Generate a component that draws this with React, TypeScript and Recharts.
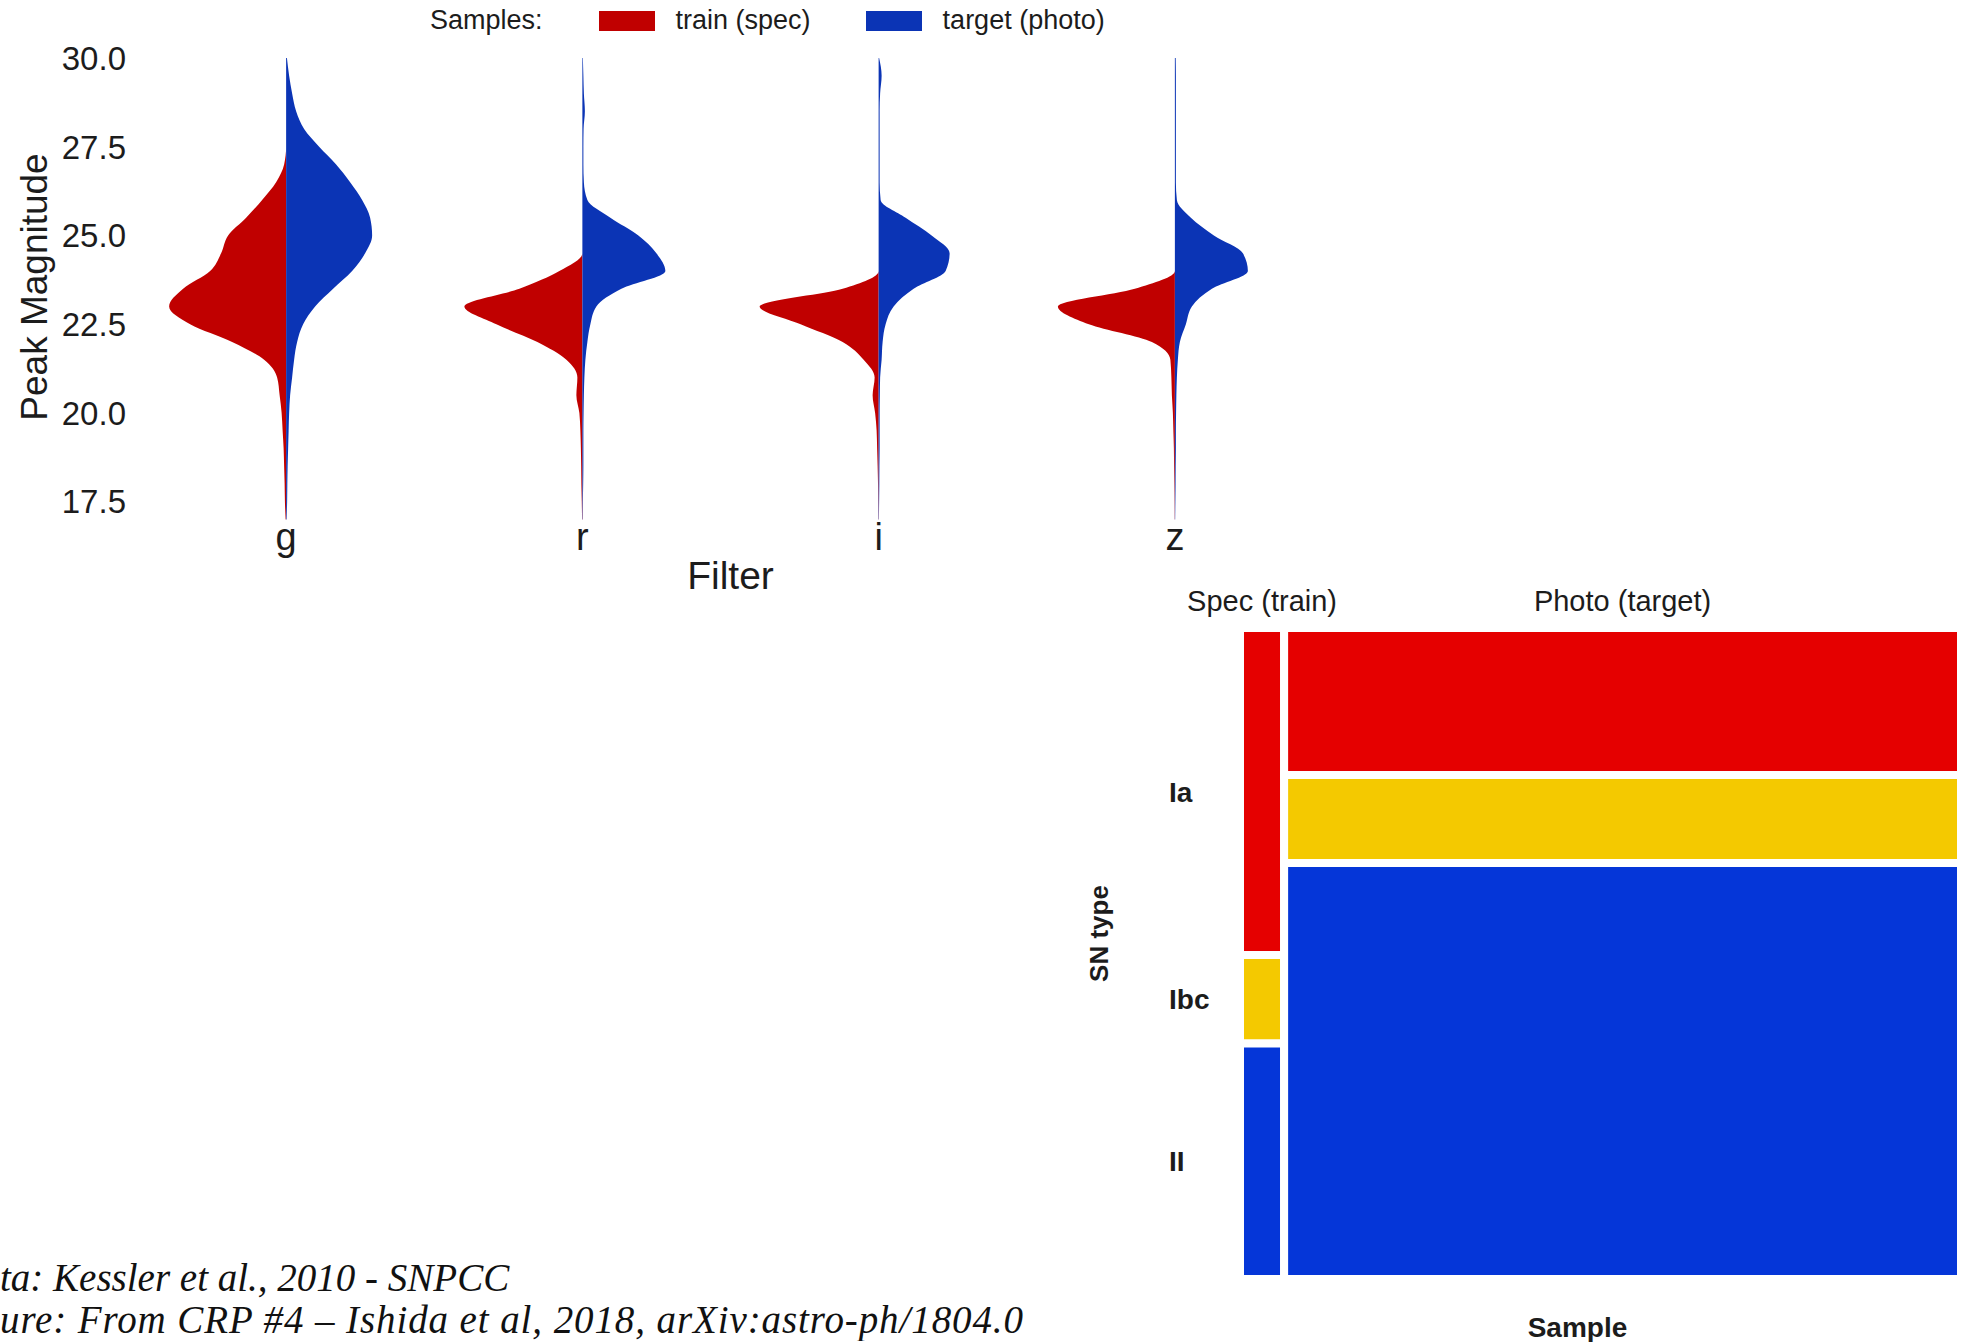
import React from 'react';
import { ComposedChart, Area, XAxis, YAxis, Legend, ReferenceArea, Label } from 'recharts';

const FONT = '"Liberation Sans", Arial, Helvetica, sans-serif';
const TEXT = '#1c1c1c';

// ---- violin plot: peak magnitude per filter ----
const FILTERS = ['g', 'r', 'i', 'z'];
const Y_TICKS = [17.5, 20, 22.5, 25, 27.5, 30];

// magnitude grid, bottom to top
const MAG = [
  17.0, 17.5, 18.0, 18.5, 19.0, 19.5, 20.0, 20.5, 21.0, 21.5, 22.0, 22.5, 23.0, 23.5,
  24.0, 24.5, 25.0, 25.5, 26.0, 26.5, 27.0, 27.5, 28.0, 28.5, 29.0, 29.5, 30.0,
];

// relative density (half-violin width), one value per MAG step
const G_TRAIN = [0.5, 1.2, 1.5, 2, 2.5, 3.5, 4.5, 6.5, 9, 22, 54, 96, 117, 103, 76, 65, 58, 40, 24, 10, 2, 0, 0, 0, 0, 0, 0];
const G_TARGET = [0.5, 1, 1.2, 1.5, 2, 2.5, 3, 4, 6, 8, 11, 17, 29, 47, 66, 79, 86, 84, 76, 64, 50, 33, 18, 10, 6, 3, 0.8];
const R_TRAIN = [0.3, 0.6, 1, 1.2, 1.5, 2, 3, 6, 5, 16, 45, 86, 118, 63, 23, 0, 0, 0, 0, 0, 0, 0, 0, 0, 0, 0, 0];
const R_TARGET = [0.3, 0.5, 0.8, 1, 1, 1, 1.2, 1.5, 2, 3, 5, 8, 14, 39, 83, 74, 56, 28, 5, 1.5, 1, 1, 1.2, 2.5, 1.5, 1, 0.5];
const I_TRAIN = [0.2, 0.4, 0.6, 1, 1.5, 2, 3.5, 6, 4, 15, 36, 78, 119, 36, 0, 0, 0, 0, 0, 0, 0, 0, 0, 0, 0, 0, 0];
const I_TARGET = [0.3, 0.5, 0.7, 0.8, 1, 1, 1, 1.2, 1.5, 3, 4, 7, 15, 35, 67, 71, 53, 27, 2, 1, 1, 1, 1, 1, 1.5, 3, 0.5];
const Z_TRAIN = [0.2, 0.3, 0.5, 0.8, 1, 1.5, 2, 3, 3.5, 4.5, 23, 86, 117, 40, 0, 0, 0, 0, 0, 0, 0, 0, 0, 0, 0, 0, 0];
const Z_TARGET = [0.3, 0.5, 0.7, 0.8, 1, 1, 1.2, 1.5, 2, 3, 5, 11, 17, 37, 73, 68, 39, 16, 2, 1, 1, 1, 1, 1, 1, 1, 0.8];

const DENSITIES = [
  [G_TRAIN, G_TARGET],
  [R_TRAIN, R_TARGET],
  [I_TRAIN, I_TARGET],
  [Z_TRAIN, Z_TARGET],
];

// train goes to the left of the filter centre, target to the right
const SAMPLES = [
  { name: 'train (spec)', color: '#C00000', side: -1 },
  { name: 'target (photo)', color: '#0B34B5', side: 1 },
];
const DENSITY_TO_WIDTH = 0.4 / 118.5;

const ROWS = MAG.map((mag, i) => {
  const row: Record<string, any> = { mag };
  FILTERS.forEach((f, fi) => {
    SAMPLES.forEach((s, si) => {
      row[`${f}_${si}`] = [fi, fi + s.side * DENSITIES[fi][si][i] * DENSITY_TO_WIDTH];
    });
  });
  return row;
});

const fmtFilter = (v: number) => FILTERS[v] ?? '';
const fmtMag = (v: number) => v.toFixed(1);

const renderLegend = () => (
  <div style={{ display: 'flex', alignItems: 'center', fontFamily: FONT, fontSize: 27, color: TEXT, whiteSpace: 'nowrap' }}>
    <span style={{ marginRight: 56 }}>Samples:</span>
    {SAMPLES.map((s, i) => (
      <span key={s.name} style={{ display: 'flex', alignItems: 'center', marginRight: i === 0 ? 55 : 0 }}>
        <span style={{ display: 'inline-block', width: 56, height: 20, background: s.color, marginRight: 21 }} />
        <span>{s.name}</span>
      </span>
    ))}
  </div>
);

// ---- mosaic plot: SN type by sample ----
const SN_TYPES = ['Ia', 'Ibc', 'II'];
const TYPE_COLORS = ['#E50000', '#F4C900', '#0536D8'];
const SAMPLE_NAMES = ['Spec (train)', 'Photo (target)'];
const SPEC_COUNTS = [554, 150, 399];
const PHOTO_COUNTS = [3820, 2285, 10815];

const COLUMNS = [SPEC_COUNTS, PHOTO_COUNTS];
const GRAND_TOTAL = COLUMNS.reduce((a, c) => a + c.reduce((x, y) => x + y, 0), 0);

const CELLS: { key: string; x1: number; x2: number; y1: number; y2: number; color: string }[] = [];
const COL_CENTERS: number[] = [];
let xStart = 0;
COLUMNS.forEach((counts, ci) => {
  const colTotal = counts.reduce((x, y) => x + y, 0);
  const xEnd = xStart + colTotal / GRAND_TOTAL;
  COL_CENTERS.push((xStart + xEnd) / 2);
  let top = 1;
  counts.forEach((n, ti) => {
    const bottom = top - n / colTotal;
    CELLS.push({ key: `${ci}-${ti}`, x1: xStart, x2: xEnd, y1: bottom, y2: top, color: TYPE_COLORS[ti] });
    top = bottom;
  });
  xStart = xEnd;
});
// type labels sit at the middle of the spec column cells
const ROW_CENTERS = CELLS.filter(c => c.key.startsWith('0-')).map(c => (c.y1 + c.y2) / 2);

const fmtSample = (v: number) => {
  const i = COL_CENTERS.findIndex(c => Math.abs(c - v) < 1e-6);
  return i >= 0 ? SAMPLE_NAMES[i] : '';
};

const TypeTick = (props: any) => {
  const i = ROW_CENTERS.findIndex(c => Math.abs(c - props.payload?.value) < 1e-6);
  return (
    <text x={props.x - 71} y={props.y} dy="0.36em" textAnchor="start" fontWeight="bold" fontSize={28} fill={TEXT}>
      {i >= 0 ? SN_TYPES[i] : ''}
    </text>
  );
};

const CREDIT_LINES = [
  { text: 'ta: Kessler et al., 2010 - SNPCC', spacing: 0 },
  { text: 'ure: From CRP #4 \u2013 Ishida et al, 2018, arXiv:astro-ph/1804.0', spacing: 0.9 },
];

export default function App() {
  return (
    <div style={{ position: 'absolute', left: 0, top: 0, width: 1967, height: 1342, background: '#fff', overflow: 'hidden', fontFamily: FONT }}>
      <div style={{ position: 'absolute', left: 0, top: 0 }}>
        <ComposedChart width={1340} height={600} data={ROWS} layout="vertical" margin={{ top: 51, right: 17, bottom: 0, left: 0 }}>
          <XAxis
            type="number"
            domain={[-0.5, 3.5]}
            ticks={[0, 1, 2, 3]}
            tickFormatter={fmtFilter}
            allowDataOverflow
            interval={0}
            axisLine={false}
            tickLine={false}
            tickSize={0}
            tickMargin={0}
            height={77}
            tick={{ fill: TEXT, fontSize: 38 }}
          >
            <Label value="Filter" position="insideBottom" offset={11} fill={TEXT} fontSize={39} />
          </XAxis>
          <YAxis
            type="number"
            dataKey="mag"
            domain={[16.9, 30.2]}
            ticks={Y_TICKS}
            tickFormatter={fmtMag}
            reversed
            allowDataOverflow
            interval={0}
            axisLine={false}
            tickLine={false}
            tickSize={0}
            tickMargin={12}
            width={138}
            tick={{ fill: TEXT, fontSize: 33 }}
          >
            <Label value="Peak Magnitude" angle={-90} position="insideLeft" offset={34} textAnchor="middle" fill={TEXT} fontSize={37} />
          </YAxis>
          <Legend verticalAlign="middle" align="center" layout="horizontal" content={renderLegend} wrapperStyle={{ top: 5, left: 430, width: 'auto' }} />
          {FILTERS.map((f, fi) =>
            SAMPLES.map((s, si) => (
              <Area
                key={`${f}_${si}`}
                name={s.name}
                dataKey={`${f}_${si}`}
                type="monotone"
                fill={s.color}
                fillOpacity={1}
                stroke="none"
                dot={false}
                activeDot={false}
                legendType="none"
                isAnimationActive={false}
              />
            ))
          )}
        </ComposedChart>
      </div>

      <div style={{ position: 'absolute', left: 1060, top: 560 }}>
        <ComposedChart width={907} height={782} data={CELLS} margin={{ top: 0, right: 6, bottom: 0, left: 0 }}>
          <XAxis
            xAxisId="top"
            orientation="top"
            type="number"
            dataKey="x1"
            domain={[0, 1]}
            ticks={COL_CENTERS}
            tickFormatter={fmtSample}
            allowDataOverflow
            interval={0}
            axisLine={false}
            tickLine={false}
            tickSize={0}
            tickMargin={17}
            height={68}
            tick={{ fill: TEXT, fontSize: 29 }}
          />
          <XAxis
            xAxisId="bottom"
            orientation="bottom"
            type="number"
            dataKey="x2"
            domain={[0, 1]}
            allowDataOverflow
            tick={false}
            axisLine={false}
            tickLine={false}
            height={63}
          >
            <Label value="Sample" position="insideTop" offset={38} dx={-23} fill={TEXT} fontSize={28} fontWeight="bold" />
          </XAxis>
          <YAxis
            type="number"
            dataKey="y2"
            domain={[0, 1]}
            ticks={ROW_CENTERS}
            tick={<TypeTick />}
            allowDataOverflow
            interval={0}
            axisLine={false}
            tickLine={false}
            tickSize={0}
            tickMargin={0}
            width={180}
          >
            <Label value="SN type" angle={-90} position="insideLeft" offset={39} dy={-20} textAnchor="middle" fill={TEXT} fontSize={26} fontWeight="bold" />
          </YAxis>
          {CELLS.map(c => (
            <ReferenceArea
              key={c.key}
              xAxisId="top"
              x1={c.x1}
              x2={c.x2}
              y1={c.y1}
              y2={c.y2}
              fill={c.color}
              fillOpacity={1}
              stroke="#ffffff"
              strokeWidth={8}
              ifOverflow="visible"
            />
          ))}
        </ComposedChart>
      </div>

      <div
        style={{
          position: 'absolute', left: 0, top: 1257, width: 1029, overflow: 'hidden', whiteSpace: 'nowrap',
          fontFamily: '"Liberation Serif", "Times New Roman", serif', fontStyle: 'italic', fontSize: 39, lineHeight: '42px', color: '#111',
        }}
      >
        {CREDIT_LINES.map(line => <div key={line.text} style={{ letterSpacing: line.spacing }}>{line.text}</div>)}
      </div>
    </div>
  );
}
